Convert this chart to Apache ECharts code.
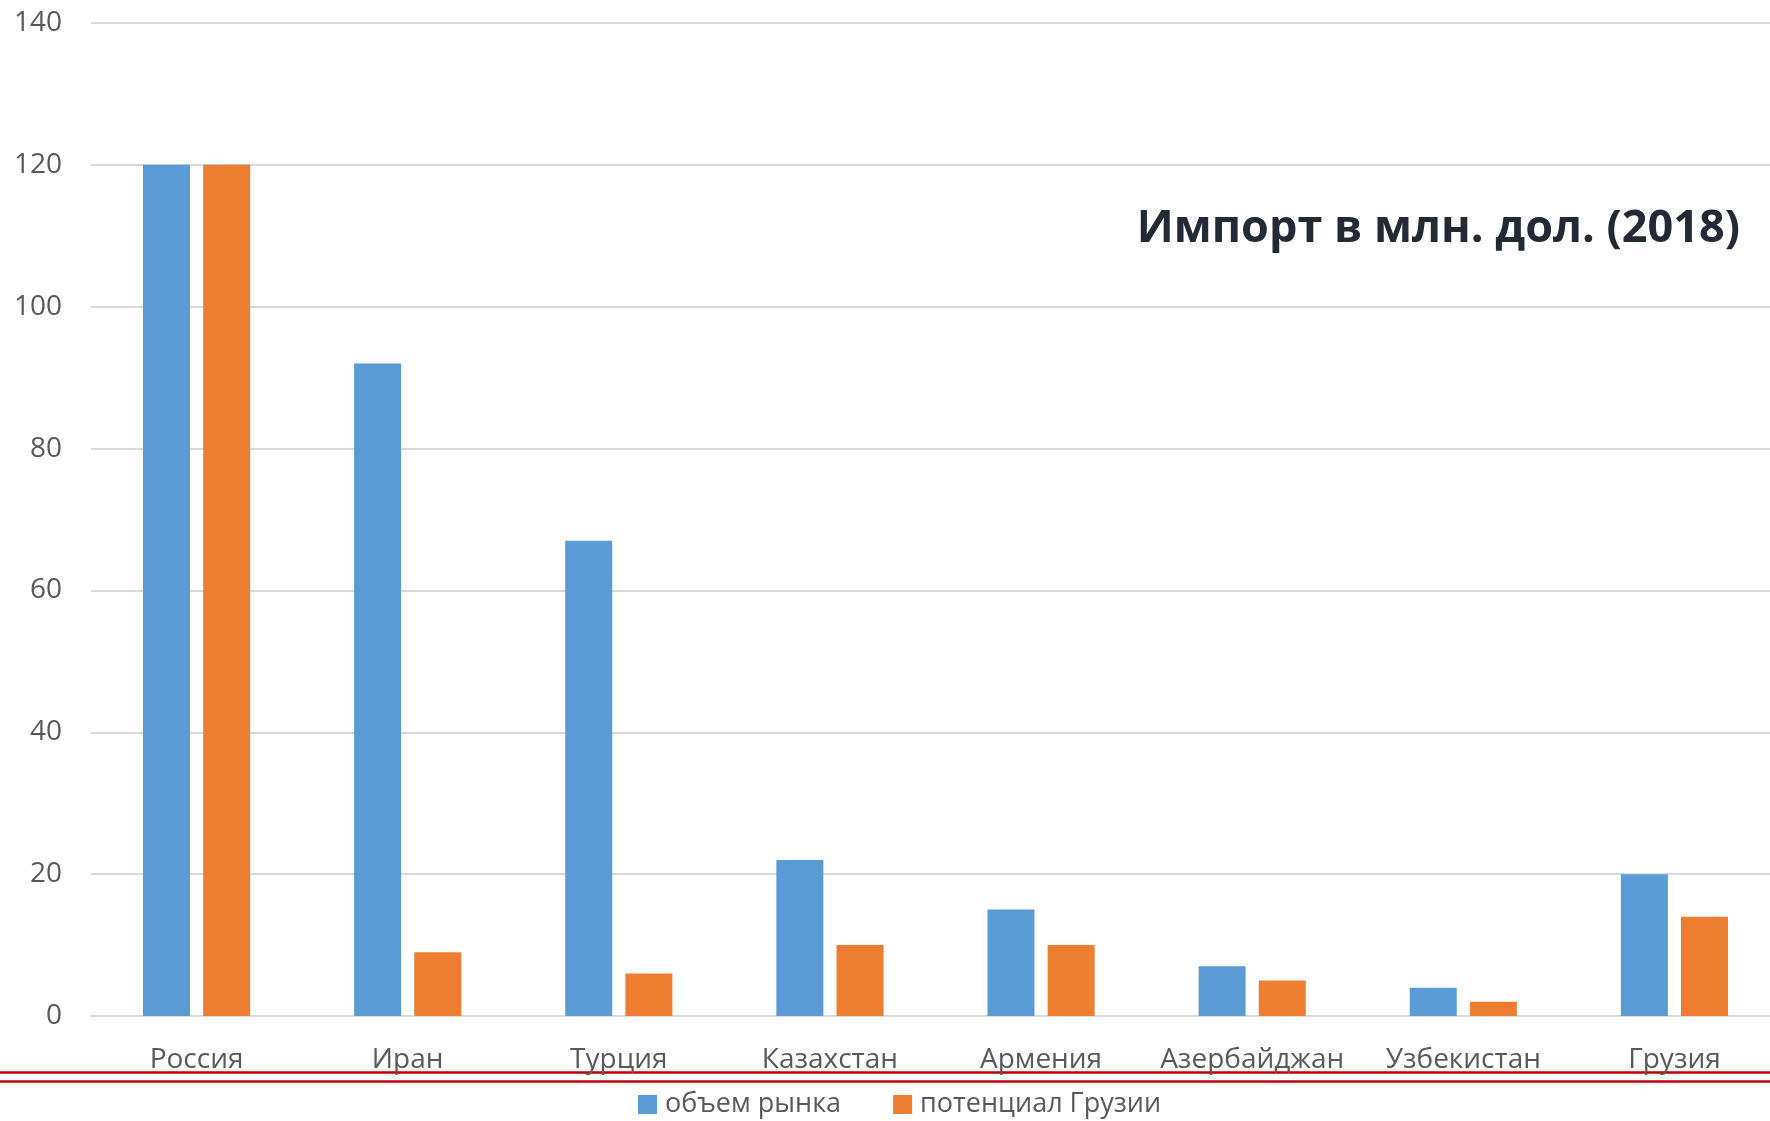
<!DOCTYPE html>
<html><head><meta charset="utf-8">
<script src="https://cdn.jsdelivr.net/npm/echarts@6/dist/echarts.min.js"></script>
<style>html,body{margin:0;padding:0;background:#fff;overflow:hidden}#c{width:1780px;height:1121px}</style>
</head><body><div id="c"></div>
<script>
const categories = ['Россия','Иран','Турция','Казахстан','Армения','Азербайджан','Узбекистан','Грузия'];
const marketVolume = [120, 92, 67, 22, 15, 7, 4, 20];
const georgiaPotential = [120, 9, 6, 10, 10, 5, 2, 14];
const seriesNames = ['объем рынка', 'потенциал Грузии'];
const titleText = 'Импорт в млн. дол. (2018)';
const yTicks = {min: 0, max: 140, interval: 20};

const chart = echarts.init(document.getElementById('c'));
const font = "'Open Sans', 'Noto Sans', sans-serif";
chart.setOption({
  animation: false,
  backgroundColor: '#ffffff',
  grid: {left: 91, right: 0, top: 23, bottom: 105, containLabel: false},
  legend: {
    data: seriesNames, left: 633, top: 1086, itemWidth: 19, itemHeight: 19, itemGap: 52,
    icon: 'rect',
    textStyle: {fontFamily: font, fontSize: 27, color: '#595959', padding: [0, 0, 0, 3]}
  },
  xAxis: {
    type: 'category', data: categories,
    axisLine: {lineStyle: {color: '#d9d9d9', width: 2}},
    axisTick: {show: false},
    axisLabel: {fontFamily: font, fontSize: 28, color: '#595959', margin: 30, interval: 0}
  },
  yAxis: {
    type: 'value', min: yTicks.min, max: yTicks.max, interval: yTicks.interval,
    axisLine: {show: false}, axisTick: {show: false},
    splitLine: {lineStyle: {color: '#d9d9d9', width: 2}},
    axisLabel: {fontFamily: font, fontSize: 28, color: '#595959', margin: 29}
  },
  series: [
    {name: seriesNames[0], type: 'bar', data: marketVolume, barWidth: 47, barGap: '28%',
     itemStyle: {color: '#5b9bd5'}},
    {name: seriesNames[1], type: 'bar', data: georgiaPotential, barWidth: 47,
     itemStyle: {color: '#ed7d31'}}
  ],
  graphic: [
    {type: 'text', right: 40, top: 207, style: {text: titleText, font: 'bold 45px ' + font, fill: '#222a35'}},
    {type: 'line', shape: {x1: 0, y1: 1072.5, x2: 1780, y2: 1072.5}, style: {stroke: '#c00000', lineWidth: 2.5}},
    {type: 'line', shape: {x1: 0, y1: 1081.5, x2: 1780, y2: 1081.5}, style: {stroke: '#c00000', lineWidth: 2.5}}
  ]
});
</script></body></html>
